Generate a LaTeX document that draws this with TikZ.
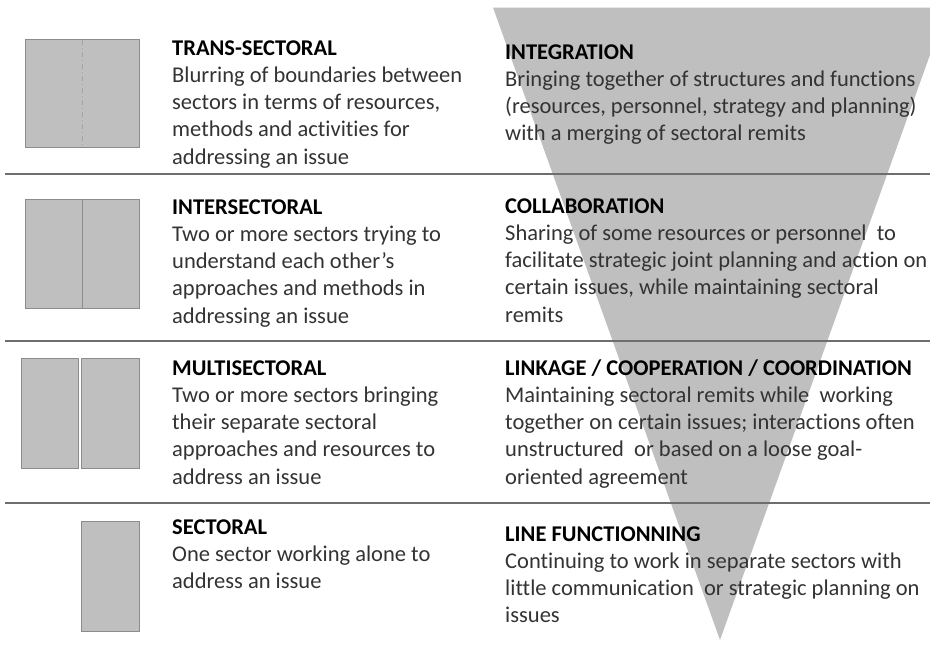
\documentclass[tikz,border=0pt]{standalone}
\usepackage{fontspec}
\setmainfont{Carlito}[Ligatures=NoCommon]
\usepackage{tikz}

\definecolor{sectgray}{HTML}{BFBFBF}
\definecolor{edgegray}{HTML}{8C8C8C}
\definecolor{rulegray}{HTML}{6E6E6E}
\definecolor{bodytext}{HTML}{333333}

\tikzset{
	sector/.style={fill=sectgray,draw=edgegray,line width=1pt},
	rule/.style={draw=rulegray,line width=1.2pt},
	blocktext/.style={anchor=base west,inner sep=0pt,align=left,text=bodytext,font=\fontsize{22.5}{27.3}\selectfont},
}
\newcommand{\headline}[1]{\textcolor{black}{\textbf{#1}}}

\begin{document}
\begin{tikzpicture}[x=1pt,y=-1pt]
	\useasboundingbox (0,0) rectangle (930,645);
	\clip (0,0) rectangle (930,645);
\fill[sectgray] (493,7.5) -- (947,7.5) -- (720,640) -- cycle;
\draw[rule] (5,174) -- (935,174);
\draw[rule] (5,341) -- (935,341);
\draw[rule] (5,503) -- (935,503);

\draw[sector] (25,39) rectangle (139,147);
\draw[draw=edgegray!80,line width=0.8pt,dash pattern=on 5pt off 3pt on 1pt off 3pt] (82,40) -- (82,146);
\draw[sector] (25,199) rectangle (139,308);
\draw[draw=edgegray,line width=1pt] (82,199) -- (82,308);
\draw[sector] (21,358) rectangle (78,468);
\draw[sector] (81,358) rectangle (139,468);
\draw[sector] (81,521) rectangle (139,631);

\node[blocktext] (trans) at (172,164.2) {\headline{TRANS-SECTORAL}\\Blurring of boundaries between\\sectors in terms of resources,\\methods and activities for\\addressing an issue};
\node[blocktext] (inter) at (172,323.2) {\headline{INTERSECTORAL}\\Two or more sectors trying to\\understand each other’s\\approaches and methods in\\addressing an issue};
\node[blocktext] (multi) at (172,484.2) {\headline{MULTISECTORAL}\\Two or more sectors bringing\\their separate sectoral\\approaches and resources to\\address an issue};
\node[blocktext] (sect) at (172,588.6) {\headline{SECTORAL}\\One sector working alone to\\address an issue};

\node[blocktext] (integ) at (505,140.9) {\headline{INTEGRATION}\\Bringing together of structures and functions\\(resources, personnel, strategy and planning)\\with a merging of sectoral remits};
\node[blocktext] (collab) at (505,322.2) {\headline{COLLABORATION}\\Sharing of some resources or personnel\ \ to\\facilitate strategic joint planning and action on\\certain issues, while maintaining sectoral\\remits};
\node[blocktext] (linkage) at (505,484.2) {\headline{LINKAGE / COOPERATION / COORDINATION}\\Maintaining sectoral remits while\ \ working\\together on certain issues; interactions often\\unstructured\ \ or based on a loose goal-\\oriented agreement};
\node[blocktext] (linefn) at (505,622.9) {\headline{LINE FUNCTIONNING}\\Continuing to work in separate sectors with\\little communication\ \ or strategic planning on\\issues};

\end{tikzpicture}
\end{document}
